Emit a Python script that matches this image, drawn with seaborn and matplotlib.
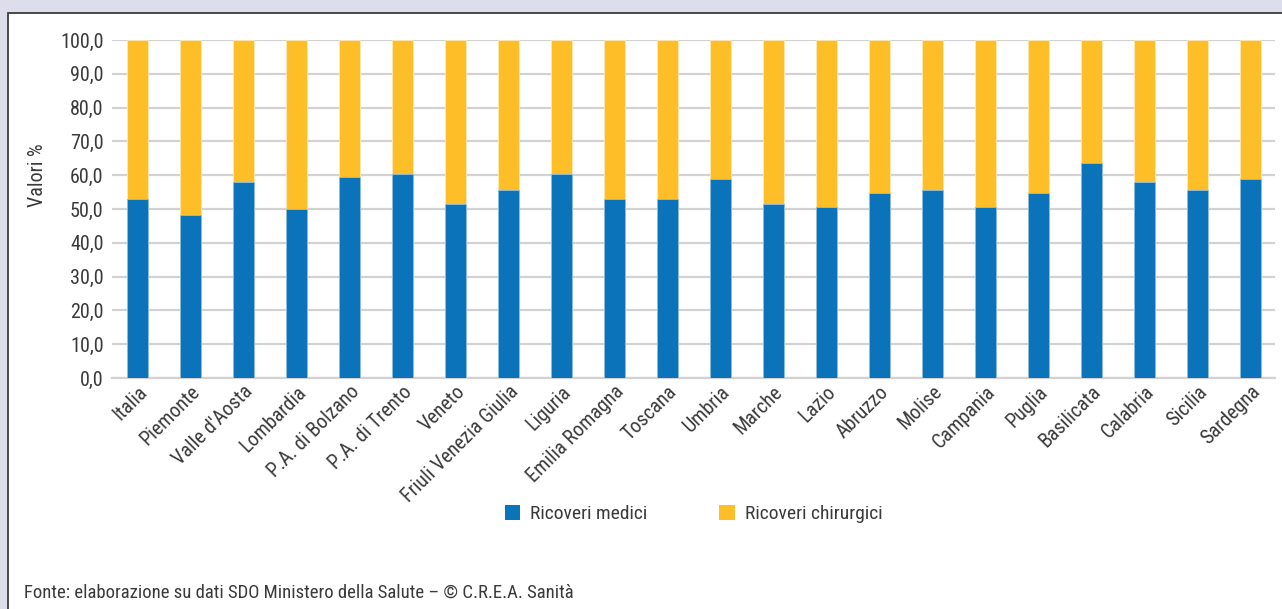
import matplotlib
matplotlib.use("Agg")
import matplotlib.pyplot as plt
from matplotlib.patches import Rectangle, Patch
from matplotlib.ticker import FuncFormatter
import seaborn as sns
import pandas as pd

regioni = ["Italia", "Piemonte", "Valle d'Aosta", "Lombardia", "P.A. di Bolzano",
           "P.A. di Trento", "Veneto", "Friuli Venezia Giulia", "Liguria",
           "Emilia Romagna", "Toscana", "Umbria", "Marche", "Lazio", "Abruzzo",
           "Molise", "Campania", "Puglia", "Basilicata", "Calabria", "Sicilia",
           "Sardegna"]
medici = [53.0, 48.2, 58.1, 49.9, 59.6, 60.4, 51.6, 55.6, 60.4, 53.1, 53.0,
          58.9, 51.6, 50.7, 54.8, 55.6, 50.7, 54.8, 63.7, 58.1, 55.6, 58.9]
chirurgici = [47.0, 51.8, 41.9, 50.1, 40.4, 39.6, 48.4, 44.4, 39.6, 46.9, 47.0,
              41.1, 48.4, 49.3, 45.2, 44.4, 49.3, 45.2, 36.3, 41.9, 44.4, 41.1]
yticks = [0, 10, 20, 30, 40, 50, 60, 70, 80, 90, 100]

BLUE = "#0a73b9"
YELLOW = "#fdbe28"
BG = "#dcdfeb"
TXT = "#3a3a3a"

sns.set_style("white")
plt.rcParams["font.family"] = ["Liberation Sans Narrow", "Roboto Condensed", "DejaVu Sans"]

df = pd.DataFrame({"regione": regioni, "medici": medici, "chirurgici": chirurgici})
df["totale"] = df["medici"] + df["chirurgici"]

fig = plt.figure(figsize=(12.82, 6.09), dpi=100)
fig.patch.set_facecolor(BG)
panel = Rectangle((8 / 1282, -0.05), 1.2, 1 - 13 / 609 + 0.05, transform=fig.transFigure,
                  facecolor="white", edgecolor="#3c3c3c", linewidth=1.3, zorder=-5)
fig.patches.append(panel)

ax = fig.add_axes([112 / 1282, 1 - 378 / 609, (1275 - 112) / 1282, (378 - 40) / 609])
ax.set_zorder(2)
ax.set_facecolor("none")

sns.barplot(data=df, x="regione", y="totale", color=YELLOW, width=0.4, ax=ax,
            saturation=1, edgecolor="#fde9b5", linewidth=0.6, zorder=3)
sns.barplot(data=df, x="regione", y="medici", color=BLUE, width=0.4, ax=ax,
            saturation=1, edgecolor="#8fc0e3", linewidth=0.6, zorder=4)

ax.set_ylim(0, 100)
ax.set_xlim(-0.48, len(regioni) - 0.53)
ax.set_yticks(yticks)
ax.yaxis.set_major_formatter(FuncFormatter(lambda v, p: f"{v:.1f}".replace(".", ",")))
ax.grid(axis="y", color="#d2d2d2", linewidth=1.6, zorder=0)
ax.set_axisbelow(True)
for s in ["top", "right", "left"]:
    ax.spines[s].set_visible(False)
ax.spines["bottom"].set_color("#d2d2d2")
ax.spines["bottom"].set_linewidth(1.6)
ax.tick_params(axis="both", length=0, labelsize=14.5, colors=TXT)
ax.tick_params(axis="y", pad=6)
ax.tick_params(axis="x", pad=3)
plt.setp(ax.get_xticklabels(), rotation=45, ha="right", rotation_mode="anchor")
ax.set_xlabel("")
ax.set_ylabel("Valori %", fontsize=14.5, color=TXT)
ax.yaxis.set_label_coords(-0.056, 0.6)

handles = [Patch(facecolor=BLUE, edgecolor="none"), Patch(facecolor=YELLOW, edgecolor="none")]
fig.legend(handles, ["Ricoveri medici", "Ricoveri chirurgici"], loc="center",
           bbox_to_anchor=(0.541, 1 - 514 / 609), ncol=2, frameon=False,
           fontsize=14, handlelength=0.8, handleheight=0.8, handletextpad=0.5,
           columnspacing=3.7, labelcolor=TXT)

fig.text(24 / 1282, 1 - 593 / 609, "Fonte: elaborazione su dati SDO Ministero della Salute – © C.R.E.A. Sanità",
         fontsize=13.5, color=TXT, va="center", ha="left")

fig.savefig("out.png", dpi=100, facecolor=BG)
